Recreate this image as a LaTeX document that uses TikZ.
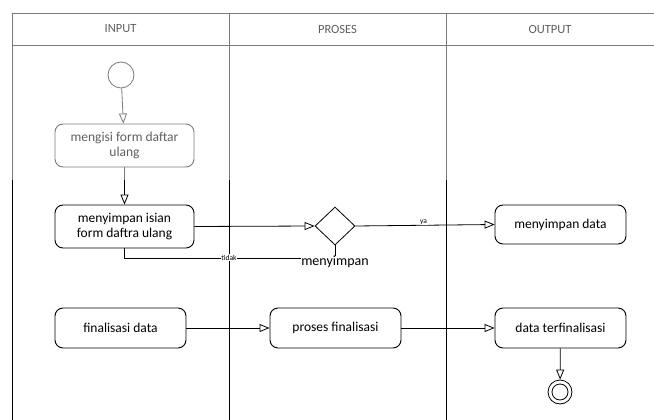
\documentclass[tikz,border=0pt]{standalone}
\usepackage{fontspec}
\setmainfont{Carlito}
\usetikzlibrary{arrows.meta,shapes.geometric,positioning}
\definecolor{fade}{HTML}{7A7A7A}
\definecolor{fadetext}{HTML}{606060}
\tikzset{
  act/.style={draw, rounded corners=8pt, line width=0.9pt, minimum width=#1, align=center, inner sep=2pt, font=\fontsize{13.5}{15.5}\selectfont},
  act/.default=131pt,
  fadeact/.style={act=139pt, draw=fade, text=fadetext},
  flow/.style={line width=0.8pt, -{Triangle[open,length=10pt,width=8pt]}},
  lane/.style={line width=0.8pt},
  tiny lbl/.style={font=\fontsize{7.5}{8}\selectfont, fill=white, inner sep=0.5pt},
  hdr/.style={font=\fontsize{12.5}{14}\selectfont, text=fadetext}
}
\begin{document}
\begin{tikzpicture}[x=1pt,y=-1pt]
\useasboundingbox (0,0) rectangle (654,420);
\fill[white] (0,0) rectangle (654,420);
% swimlane frame: faded upper part
\draw[lane, draw=fade] (654,13) -- (12,13) -- (12,180);
\draw[lane, draw=fade] (12,45) -- (654,45);
\draw[lane, draw=fade] (229,13) -- (229,180);
\draw[lane, draw=fade] (446,13) -- (446,180);
% lower part black
\draw[lane] (12,180) -- (12,420);
\draw[lane] (229,180) -- (229,420);
\draw[lane] (446,180) -- (446,420);
% headers
\node[hdr] (hin) at (120.5,29) {INPUT};
\node[hdr] (hpr) at (337.5,29) {PROSES};
\node[hdr] (hout) at (550,29) {OUTPUT};
% nodes
\node[draw=fade, circle, line width=0.8pt, minimum size=26pt, inner sep=0] (start) at (121,75) {};
\node[fadeact, minimum height=43pt] (fill) at (124.5,145.5) {mengisi form daftar\\ulang};
\coordinate (cut) at (124.5,180);
\node[act=139pt, minimum height=43pt] (save) at (124.5,226.5) {menyimpan isian\\form daftra ulang};
\node[draw, diamond, line width=0.8pt, minimum width=40pt, minimum height=38pt, inner sep=0] (dia) at (335,226) {};
\node[act, minimum height=39pt] (savedata) at (560.5,224.5) {menyimpan data};
\node[act, minimum height=40pt] (fin) at (120.5,328) {finalisasi data};
\node[act, minimum height=40pt] (proc) at (335.5,328) {proses finalisasi};
\node[act, minimum height=40pt] (done) at (560.5,328) {data terfinalisasi};
\node[draw, circle, line width=0.8pt, minimum size=24pt, inner sep=0] (endo) at (560,392) {};
\node[draw, circle, line width=0.8pt, minimum size=16pt, inner sep=0] (endi) at (560,392) {};
% connectors
\draw[flow, draw=fade] (start) -- (fill);
\draw[lane, draw=fade] (fill) -- (cut);
\draw[flow] (cut) -- (save);
\draw[flow] (save.east) -- (dia.west);
\draw[flow] (dia.east) -- node[tiny lbl, yshift=3pt, pos=0.49] (ya) {ya} (savedata.west);
\draw[lane] (save.south) -- ++(0,9.5) coordinate (tk) -| (dia.south);
\node[tiny lbl] (tidak) at (229,257.5) {tidak};
\node[font=\fontsize{14}{15}\selectfont, fill=white, inner sep=0.5pt] (dialbl) at (335,262) {menyimpan};
\draw[flow] (fin) -- (proc);
\draw[flow] (proc) -- (done);
\draw[flow] (done) -- (endo);
\end{tikzpicture}
\end{document}
